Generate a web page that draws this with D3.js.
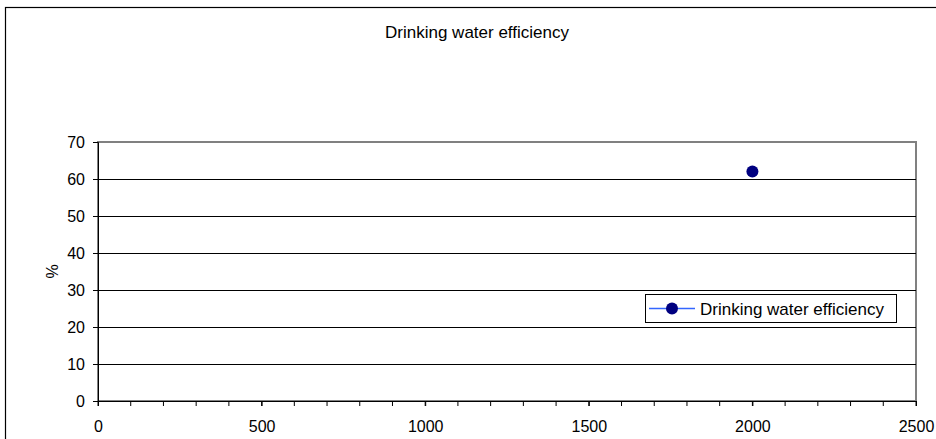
<!DOCTYPE html>
<html>
<head>
<meta charset="utf-8">
<script src="https://cdn.jsdelivr.net/npm/d3@7"></script>
<style>
  body { margin: 0; background: #fff; }
  text { font-family: "Liberation Sans", Arial, sans-serif; fill: #000; }
</style>
</head>
<body>
<div id="chart"></div>
<script>
// data
const seriesName = "Drinking water efficiency";
const years = [2000];
const values = [62];
const xTicks = [0, 500, 1000, 1500, 2000, 2500];
const yTicks = [0, 10, 20, 30, 40, 50, 60, 70];

const width = 936, height = 439;
const margin = {top: 142, right: 20, bottom: 38, left: 98};
const fontSize = "16px";

const svg = d3.select("#chart").append("svg")
    .attr("width", width)
    .attr("height", height);

// outer chart frame (runs off the right/bottom edge)
svg.append("rect")
    .attr("x", 5.5).attr("y", 7.5)
    .attr("width", width + 10).attr("height", height + 10)
    .attr("fill", "#fff")
    .attr("stroke", "#000").attr("stroke-width", 1.2);

const x = d3.scaleLinear().domain([0, 2500]).range([margin.left, width - margin.right]);
const y = d3.scaleLinear().domain([0, 70]).range([height - margin.bottom, margin.top]);

// plot area border (grey)
svg.append("rect")
    .attr("x", x(0)).attr("y", y(70))
    .attr("width", x(2500) - x(0)).attr("height", y(0) - y(70))
    .attr("fill", "none")
    .attr("stroke", "#808080").attr("stroke-width", 2);

// gridlines
svg.append("g")
  .selectAll("line")
  .data(yTicks.filter(d => d > 0 && d < 70))
  .join("line")
    .attr("x1", x(0)).attr("x2", x(2500))
    .attr("y1", d => Math.round(y(d)) + 0.5).attr("y2", d => Math.round(y(d)) + 0.5)
    .attr("stroke", "#000");

// y axis
const yAxis = svg.append("g")
    .attr("transform", `translate(${x(0)},0)`)
    .call(d3.axisLeft(y).tickValues(yTicks).tickFormat(d3.format("d")).tickSize(5).tickPadding(8));
yAxis.select(".domain").attr("stroke", "#000");
yAxis.selectAll("text").style("font-size", fontSize).style("font-family", "Liberation Sans, Arial, sans-serif");

// x axis, minor ticks every 100
const minor = d3.range(0, 2501, 100);
svg.append("g")
  .selectAll("line")
  .data(minor)
  .join("line")
    .attr("x1", d => x(d)).attr("x2", d => x(d))
    .attr("y1", y(0)).attr("y2", y(0) + 5)
    .attr("stroke", "#000");

const xAxis = svg.append("g")
    .attr("transform", `translate(0,${y(0)})`)
    .call(d3.axisBottom(x).tickValues(xTicks).tickFormat(d3.format("d")).tickSize(5).tickPadding(15));
xAxis.select(".domain").attr("stroke", "#000");
xAxis.selectAll("text").style("font-size", fontSize).style("font-family", "Liberation Sans, Arial, sans-serif");

// y axis title
svg.append("text")
    .attr("transform", `translate(58,${(y(0) + y(70)) / 2}) rotate(-90)`)
    .attr("text-anchor", "middle")
    .style("font-size", fontSize)
    .text("%");

// title
svg.append("text")
    .attr("x", 477).attr("y", 38)
    .attr("text-anchor", "middle")
    .style("font-size", "17px")
    .text("Drinking water efficiency");

// data points
svg.append("g")
  .selectAll("circle")
  .data(years.map((d, i) => [d, values[i]]))
  .join("circle")
    .attr("cx", d => x(d[0]))
    .attr("cy", d => y(d[1]))
    .attr("r", 6)
    .attr("fill", "#000080");

// legend
const lg = svg.append("g").attr("transform", "translate(645,294)");
lg.append("rect")
    .attr("x", 0.5).attr("y", 0.5)
    .attr("width", 251).attr("height", 28)
    .attr("fill", "#fff")
    .attr("stroke", "#000");
lg.append("line")
    .attr("x1", 4).attr("x2", 50)
    .attr("y1", 14.5).attr("y2", 14.5)
    .attr("stroke", "#3366ff").attr("stroke-width", 1.5);
lg.append("circle")
    .attr("cx", 27).attr("cy", 14.5).attr("r", 6)
    .attr("fill", "#000080");
lg.append("text")
    .attr("x", 55).attr("y", 20.5)
    .style("font-size", "17px")
    .text(seriesName);
</script>
</body>
</html>
